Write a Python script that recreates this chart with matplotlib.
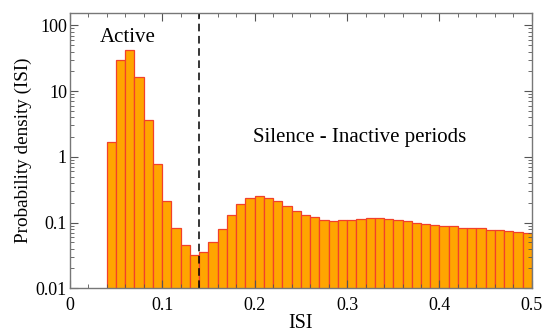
import numpy as np
import matplotlib
matplotlib.use("Agg")
import matplotlib.pyplot as plt
from matplotlib.ticker import MultipleLocator, LogLocator, NullFormatter, FixedLocator, FixedFormatter

plt.rcParams['font.family'] = ['Liberation Serif', 'DejaVu Serif']

# histogram of ISI, bins of 0.01 starting at 0.04
bin_left = np.round(np.arange(0.04, 0.50, 0.01), 2)
density = [1.69, 30.1, 42.7, 16.2, 3.6, 0.774, 0.21, 0.0835, 0.046, 0.0325,
           0.0356, 0.050, 0.0797, 0.128, 0.193, 0.234, 0.249, 0.235, 0.209, 0.180,
           0.148, 0.128, 0.120, 0.110, 0.106, 0.109, 0.109, 0.112, 0.116, 0.116,
           0.113, 0.108, 0.104, 0.098, 0.095, 0.0906, 0.0875, 0.0875, 0.0824, 0.0815,
           0.0815, 0.0769, 0.0769, 0.0742, 0.0716, 0.070]
split_isi = 0.14

y_ticks = [0.01, 0.1, 1, 10, 100]
y_labels = ['0.01', '0.1', '1', '10', '100']

fig = plt.figure(figsize=(5.45, 3.34), dpi=100)
ax = fig.add_axes([0.128, 0.137, 0.848, 0.824])

ax.bar(bin_left, density, width=0.01, align='edge', color='#ffa500',
       edgecolor='#f2402a', linewidth=0.9, bottom=0.0001)
ax.axvline(split_isi, color='black', ls=(0, (5, 3)), lw=1.1)

ax.set_yscale('log')
ax.set_xlim(0, 0.5)
ax.set_ylim(0.01, 154)

ax.xaxis.set_major_locator(MultipleLocator(0.1))
ax.xaxis.set_minor_locator(MultipleLocator(0.02))
ax.set_xticks([0, 0.1, 0.2, 0.3, 0.4, 0.5])
ax.set_xticklabels(['0', '0.1', '0.2', '0.3', '0.4', '0.5'])
ax.yaxis.set_major_locator(FixedLocator(y_ticks))
ax.yaxis.set_major_formatter(FixedFormatter(y_labels))
ax.yaxis.set_minor_locator(LogLocator(base=10, subs=np.arange(2, 10)))
ax.yaxis.set_minor_formatter(NullFormatter())

ax.tick_params(which='both', direction='in', top=True, right=True, colors='#555555',
               labelcolor='black', labelsize=13, pad=2)
ax.tick_params(axis='x', which='both', pad=6)
ax.tick_params(which='major', length=6, width=0.8)
ax.tick_params(which='minor', length=3, width=0.6)
for s in ax.spines.values():
    s.set_color('#777777')
    s.set_linewidth(1.0)

ax.set_xlabel('ISI', fontsize=14.5, labelpad=0.5)
ax.set_ylabel('Probability density (ISI)', fontsize=13.8, labelpad=3)

ax.text(0.033, 56, 'Active', fontsize=15)
ax.text(0.198, 1.69, 'Silence - Inactive periods', fontsize=15)

fig.savefig('out.png', dpi=100)
